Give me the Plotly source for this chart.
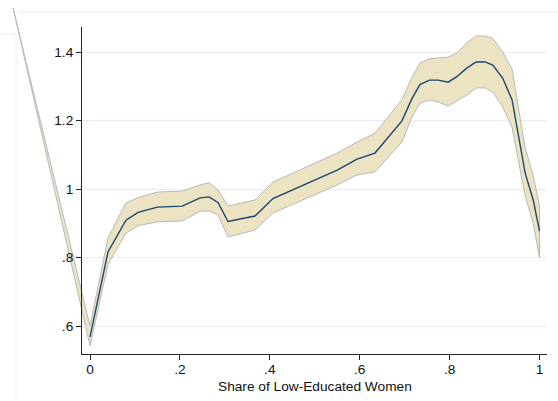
import plotly.graph_objects as go

# ---------------- data ----------------
share = [0.0, 0.04, 0.08, 0.107, 0.15, 0.205, 0.245, 0.265, 0.285, 0.307, 0.367,
         0.407, 0.55, 0.594, 0.634, 0.694, 0.716, 0.734, 0.755, 0.775, 0.797,
         0.816, 0.838, 0.859, 0.879, 0.896, 0.918, 0.939, 0.968, 0.986, 1.0]
effect = [0.568, 0.816, 0.909, 0.932, 0.947, 0.950, 0.974, 0.977, 0.960, 0.905, 0.921,
          0.972, 1.055, 1.087, 1.105, 1.199, 1.263, 1.305, 1.318, 1.318, 1.312,
          1.328, 1.353, 1.371, 1.371, 1.362, 1.324, 1.260, 1.047, 0.968, 0.877]
ci_low = [0.542, 0.780, 0.871, 0.893, 0.904, 0.907, 0.935, 0.936, 0.924, 0.860, 0.880,
          0.930, 1.012, 1.041, 1.050, 1.137, 1.210, 1.250, 1.260, 1.254, 1.242,
          1.256, 1.274, 1.295, 1.295, 1.283, 1.240, 1.180, 0.980, 0.900, 0.800]
ci_high = [0.600, 0.857, 0.959, 0.975, 0.991, 0.994, 1.012, 1.018, 0.997, 0.950, 0.968,
           1.020, 1.105, 1.137, 1.163, 1.260, 1.325, 1.368, 1.380, 1.383, 1.385,
           1.397, 1.426, 1.447, 1.447, 1.440, 1.400, 1.350, 1.120, 1.040, 0.950]
# stray leading observation of the band (drawn off the plot region in the original)
stray_x = -0.171
stray_y = 1.528

x_ticks = [0, 0.2, 0.4, 0.6, 0.8, 1]
x_labels = ["0", ".2", ".4", ".6", ".8", "1"]
y_ticks = [0.6, 0.8, 1.0, 1.2, 1.4]
y_labels = [".6", ".8", "1", "1.2", "1.4"]
x_title = "Share of Low-Educated Women"

# ---------------- layout geometry ----------------
W, H = 558, 401
PL, PR, PT, PB = 82, 547, 27, 354          # plot region in pixels
XR = [-8 / 449.5, 1 + 7.5 / 449.5]         # main x range
YR = [0.6 - 28 / 342.5, 1.4 + 25 / 342.5]  # main y range

sx = (XR[1] - XR[0]) / (PR - PL)
sy = (YR[1] - YR[0]) / (PB - PT)
XR_full = [XR[0] - PL * sx, XR[1] + (W - PR) * sx]
YR_full = [YR[0] - (H - PB) * sy, YR[1] + PT * sy]

FONT = "Liberation Sans, Arial, sans-serif"
FS = 13.7
BAND = "#ebe3c2"
EDGE = "#b9b9b9"
NAVY = "#1a476f"
GRID = "#e5eef0"

fig = go.Figure()
# stray sliver of the band reaching outside the plot region
# (full-figure, invisible axes aligned with the main axes, drawn first)
fig.add_trace(go.Scatter(
    x=[stray_x, share[0], share[0], stray_x],
    y=[stray_y, ci_high[0], ci_low[0], stray_y], mode="lines",
    fill="toself", fillcolor=BAND, line=dict(width=0),
    xaxis="x", yaxis="y", hoverinfo="skip", showlegend=False))
fig.add_trace(go.Scatter(
    x=[share[0], stray_x, share[0]], y=[ci_high[0], stray_y, ci_low[0]],
    mode="lines", line=dict(color=EDGE, width=1),
    xaxis="x", yaxis="y", hoverinfo="skip", showlegend=False))
# confidence band inside the plot region
fig.add_trace(go.Scatter(
    x=share + share[::-1], y=ci_high + ci_low[::-1], mode="lines",
    fill="toself", fillcolor=BAND, line=dict(color=EDGE, width=1),
    xaxis="x2", yaxis="y2", hoverinfo="skip", showlegend=False))
# estimated effect
fig.add_trace(go.Scatter(
    x=share, y=effect, mode="lines", line=dict(color=NAVY, width=1.4),
    xaxis="x2", yaxis="y2", showlegend=False))

fig.update_layout(
    width=W, height=H,
    margin=dict(l=0, r=0, t=0, b=0, pad=0),
    paper_bgcolor="white", plot_bgcolor="rgba(0,0,0,0)",
    font=dict(family=FONT, size=FS, color="#111"),
    showlegend=False,
    xaxis=dict(domain=[0, 1], range=XR_full, anchor="y", visible=False,
               fixedrange=True),
    yaxis=dict(domain=[0, 1], range=YR_full, anchor="x", visible=False,
               fixedrange=True),
    xaxis2=dict(domain=[PL / W, PR / W], range=XR, anchor="y2",
                showline=True, linecolor="#222", linewidth=1,
                ticks="outside", ticklen=5, tickcolor="#222", tickwidth=1,
                tickvals=x_ticks, ticktext=x_labels, showgrid=False, zeroline=False,
                ticklabelstandoff=-2,
                automargin=False, fixedrange=True),
    yaxis2=dict(domain=[1 - PB / H, 1 - PT / H], range=YR, anchor="x2",
                showline=True, linecolor="#222", linewidth=1,
                ticks="outside", ticklen=5, tickcolor="#222", tickwidth=1,
                tickvals=y_ticks, ticktext=y_labels, showgrid=True,
                gridcolor=GRID, gridwidth=1, zeroline=False,
                automargin=False, fixedrange=True),
)

# x-axis title, placed tight under the tick labels as in the original
fig.add_annotation(text=x_title, xref="paper", yref="paper",
                   x=(PL + PR) / 2 / W, y=1 - 386.5 / H,
                   xanchor="center", yanchor="middle", showarrow=False,
                   borderpad=0,
                   font=dict(family=FONT, size=FS, color="#111"))

# faint outer frame lines of the original graph region
def px(xp):
    return xp / W

def py(yp):
    return 1 - yp / H

frame = [(18, 12, W, 12), (0, 34, 16, 34), (16, 34, 16, H)]
for x0, y0, x1, y1 in frame:
    fig.add_shape(type="line", xref="paper", yref="paper",
                  x0=px(x0), y0=py(y0), x1=px(x1), y1=py(y1),
                  line=dict(color=GRID, width=1), layer="below")

fig.write_html("out.html",
               config={"displayModeBar": False},
               post_script="document.body.style.margin='0';"
                           "document.body.style.overflow='hidden';")
